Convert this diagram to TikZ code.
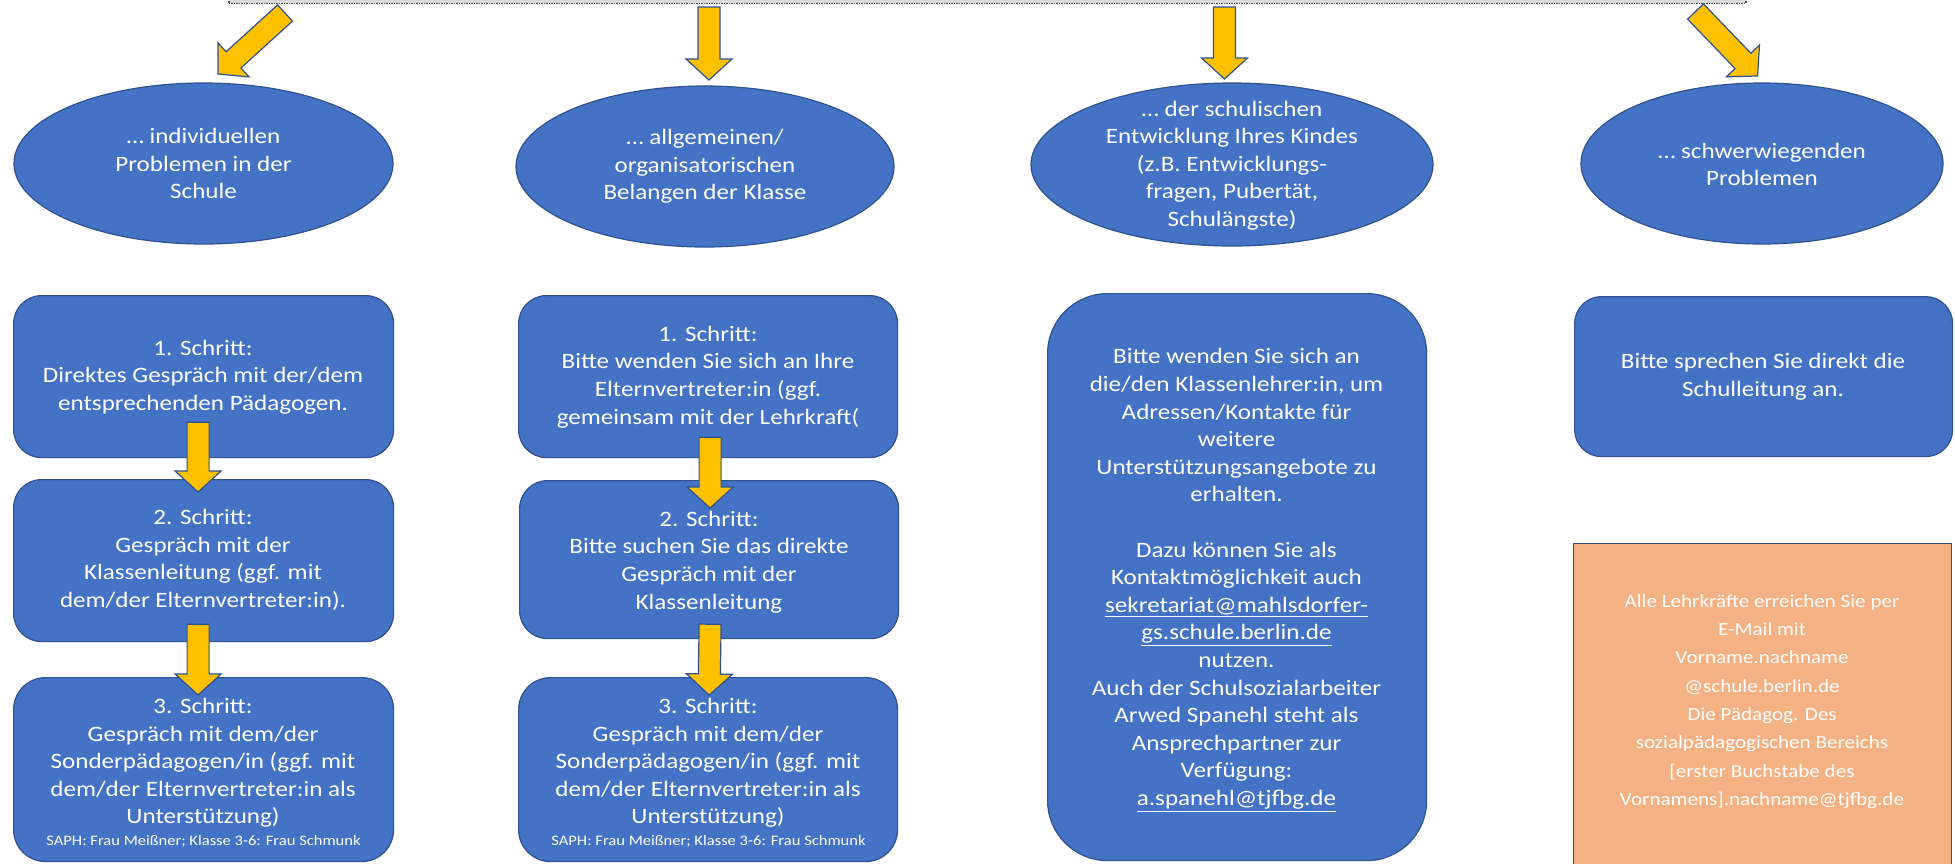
\documentclass[tikz,border=0pt]{standalone}
\usepackage{fontspec}
\setmainfont{Carlito}[FakeStretch=1.14]
\usetikzlibrary{calc,shapes.geometric}
\definecolor{bfill}{HTML}{4472C4}
\definecolor{bline}{HTML}{2F528F}
\definecolor{afill}{HTML}{FFC000}
\definecolor{ofill}{HTML}{F4B183}
\tikzset{
  ell/.style={ellipse, fill=bfill, draw=bline, line width=1.2pt, inner sep=0pt},
  bx/.style={rectangle, fill=bfill, draw=bline, line width=1.2pt, inner sep=0pt, anchor=north west},
  obx/.style={rectangle, fill=ofill, draw=bline, line width=1.4pt, inner sep=0pt, anchor=north west},
  txt/.style={text=white, align=center, font=\fontsize{22}{27.6}\selectfont, inner sep=0pt},
  smalltxt/.style={text=white, align=center, font=\fontsize{14.5}{17}\selectfont, inner sep=0pt},
  otxt/.style={text=white, align=center, font=\fontsize{18.5}{28.3}\selectfont, inner sep=0pt},
  topbar/.style={rectangle, fill=gray!30, draw=gray!60!black, densely dotted, line width=1.5pt, inner sep=0pt, anchor=south west},
  arr/.style={fill=afill, draw=bline, line width=1.2pt, line join=miter},
}
\newcommand{\blockarrow}[2]{%
  \coordinate (hb) at ($(#2)!21pt!(#1)$);
  \draw[arr] ($(#1)!11pt!90:(#2)$) -- ($(hb)!11pt!90:(#2)$) -- ($(hb)!23pt!90:(#2)$) -- (#2)
    -- ($(hb)!23pt!-90:(#2)$) -- ($(hb)!11pt!-90:(#2)$) -- ($(#1)!11pt!-90:(#2)$) -- cycle;}
\begin{document}
\begin{tikzpicture}[x=1pt, y=-1pt]
\useasboundingbox (0,0) rectangle (1955,863);
\clip (0,0) rectangle (1955,863);
\fill[white] (0,0) rectangle (1955,863);

% top bar (bottom edge of the box above)
\node[topbar, minimum width=1517, minimum height=24] (top) at (228,4) {};

% ellipses
\node[ell, minimum width=379, minimum height=161] (e1) at (203.5,163.5) {};
\node[ell, minimum width=378, minimum height=161] (e2) at (705,166.5) {};
\node[ell, minimum width=402, minimum height=163] (e3) at (1232,164.5) {};
\node[ell, minimum width=362, minimum height=161] (e4) at (1762,163.5) {};
\node[txt] (te1) at (e1) {… individuellen\\Problemen in der\\Schule};
\node[txt] (te2) at (e2) {… allgemeinen/\\organisatorischen\\Belangen der Klasse};
\node[txt] (te3) at (1232,165.5) {… der schulischen\\Entwicklung Ihres Kindes\\(z.B. Entwicklungs-\\fragen, Pubertät,\\Schulängste)};
\node[txt] (te4) at (1762,164.5) {… schwerwiegenden\\Problemen};

% boxes column 1
\node[bx, rounded corners=28, minimum width=380, minimum height=162] (b11) at (13,295) {};
\node[bx, rounded corners=28, minimum width=380, minimum height=162] (b12) at (13,479) {};
\node[bx, rounded corners=32, minimum width=380, minimum height=184] (b13) at (13,677) {};
% boxes column 2
\node[bx, rounded corners=28, minimum width=379, minimum height=162] (b21) at (518,295) {};
\node[bx, rounded corners=28, minimum width=379, minimum height=158] (b22) at (519,480) {};
\node[bx, rounded corners=32, minimum width=379, minimum height=184] (b23) at (518,677) {};
% column 3 and 4
\node[bx, rounded corners=60, minimum width=379, minimum height=567] (b3) at (1047,293) {};
\node[bx, rounded corners=27, minimum width=378, minimum height=160] (b4) at (1574,296) {};
\node[obx, minimum width=378, minimum height=340] (b5) at (1573,543) {};

% texts column 1
\node[txt] (t11) at (203,377) {1. Schritt:\\Direktes Gespräch mit der/dem\\entsprechenden Pädagogen.};
\node[txt] (t12) at (203,560) {2. Schritt:\\Gespräch mit der\\Klassenleitung (ggf. mit\\dem/der Elternvertreter:in).};
\node[txt] (t13) at (203,763) {3. Schritt:\\Gespräch mit dem/der\\Sonderpädagogen/in (ggf. mit\\dem/der Elternvertreter:in als\\Unterstützung)};
\node[smalltxt] (s13) at (203.5,841) {SAPH: Frau Meißner; Klasse 3-6: Frau Schmunk};
% texts column 2
\node[txt] (t21) at (708,377) {1. Schritt:\\Bitte wenden Sie sich an Ihre\\Elternvertreter:in (ggf.\\gemeinsam mit der Lehrkraft(};
\node[txt] (t22) at (709,562) {2. Schritt:\\Bitte suchen Sie das direkte\\Gespräch mit der\\Klassenleitung};
\node[txt] (t23) at (708,763) {3. Schritt:\\Gespräch mit dem/der\\Sonderpädagogen/in (ggf. mit\\dem/der Elternvertreter:in als\\Unterstützung)};
\node[smalltxt] (s23) at (708.5,841) {SAPH: Frau Meißner; Klasse 3-6: Frau Schmunk};
% column 3 text
\node[txt] (t3) at (1236.5,580) {Bitte wenden Sie sich an\\die/den Klassenlehrer:in, um\\Adressen/Kontakte für\\weitere\\Unterstützungsangebote zu\\erhalten.\\[27.6pt]Dazu können Sie als\\Kontaktmöglichkeit auch\\\underline{sekretariat@mahlsdorfer-}\\\underline{gs.schule.berlin.de}\\nutzen.\\Auch der Schulsozialarbeiter\\Arwed Spanehl steht als\\Ansprechpartner zur\\Verfügung:\\\underline{a.spanehl@tjfbg.de}};
% column 4 texts
\node[txt] (t4) at (1763,377) {Bitte sprechen Sie direkt die\\Schulleitung an.};
\node[otxt] (t5) at (1762,701.5) {Alle Lehrkräfte erreichen Sie per\\E-Mail mit\\Vorname.nachname\\@schule.berlin.de\\Die Pädagog. Des\\sozialpädagogischen Bereichs\\{[}erster Buchstabe des\\Vornamens{]}.nachname@tjfbg.de};

% arrows from the top bar to the ellipses
\coordinate (a1s) at (285,13);   \coordinate (a1e) at (218,74);
\coordinate (a2s) at (709,7);    \coordinate (a2e) at (709,80);
\coordinate (a3s) at (1224.5,7); \coordinate (a3e) at (1224.5,79);
\coordinate (a4s) at (1695.5,11.5); \coordinate (a4e) at (1757.5,76);
\blockarrow{a1s}{a1e}
\blockarrow{a2s}{a2e}
\blockarrow{a3s}{a3e}
\blockarrow{a4s}{a4e}

% arrows between the steps
\coordinate (c1s) at ($(b11.south)+(-5.5,-36)$); \coordinate (c1e) at ($(b12.north)+(-5.5,13)$);
\coordinate (c2s) at ($(b12.south)+(-5.5,-18)$); \coordinate (c2e) at ($(b13.north)+(-5.5,18)$);
\coordinate (d1s) at ($(b21.south)+(2,-21)$); \coordinate (d1e) at ($(b22.north)+(1,28)$);
\coordinate (d2s) at ($(b22.south)+(1,-15)$); \coordinate (d2e) at ($(b23.north)+(1,18)$);
\blockarrow{c1s}{c1e}
\blockarrow{c2s}{c2e}
\blockarrow{d1s}{d1e}
\blockarrow{d2s}{d2e}
\end{tikzpicture}
\end{document}
